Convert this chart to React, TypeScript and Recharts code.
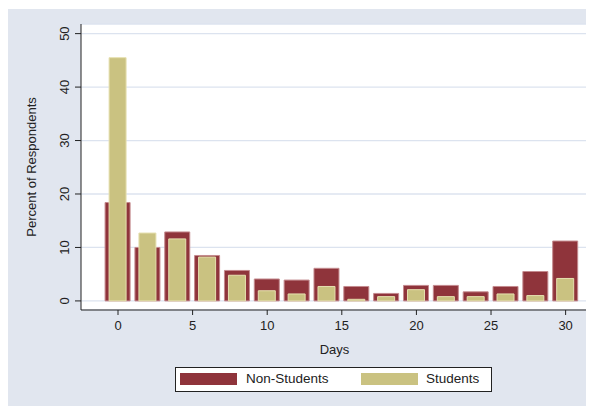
import { ComposedChart, Bar, XAxis, YAxis, CartesianGrid } from "recharts";

const days = [0, 2, 4, 6, 8, 10, 12, 14, 16, 18, 20, 22, 24, 26, 28, 30];
const nonStudents = [18.4, 10.0, 12.9, 8.5, 5.7, 4.1, 3.9, 6.1, 2.7, 1.4, 2.9, 2.9, 1.7, 2.7, 5.5, 11.2];
const students = [45.5, 12.7, 11.6, 8.2, 4.8, 1.9, 1.3, 2.7, 0.3, 0.8, 2.1, 0.8, 0.8, 1.3, 1.0, 4.2];
const xTicks = [0, 5, 10, 15, 20, 25, 30];
const yTicks = [0, 10, 20, 30, 40, 50];

const RED = "#8f343b";
const KHAKI = "#cac281";
const BG = "#e1e6ef";
const FONT = "'Liberation Sans', Arial, sans-serif";

const data = days.map((d, i) => ({ day: d, non: nonStudents[i], stu: students[i] }));

// stata draws y tick labels turned on their side
const YTick = (props: any) => {
  const { x, y, payload } = props;
  return (
    <text
      x={x}
      y={y}
      transform={`rotate(-90 ${x} ${y})`}
      textAnchor="middle"
      fontSize={13}
      fontFamily={FONT}
      fill="#222"
    >
      {payload.value}
    </text>
  );
};

const YTitle = (props: any) => {
  const vb = props.viewBox || { y: 15, height: 286 };
  const cy = vb.y + vb.height / 2;
  return (
    <text
      x={28}
      y={cy}
      transform={`rotate(-90 28 ${cy})`}
      textAnchor="middle"
      fontSize={13}
      fontFamily={FONT}
      fill="#222"
    >
      Percent of Respondents
    </text>
  );
};

export default function App() {
  return (
    <div style={{ position: "relative", top: 1, width: 586, height: 398, background: BG }}>
      <ComposedChart
        width={586}
        height={398}
        data={data}
        margin={{ top: 15, right: 6, bottom: 67, left: 0 }}
      >
        <CartesianGrid vertical={false} fill="#ffffff" stroke="#dce3ef" strokeWidth={1.3} />
        <XAxis
          xAxisId="a"
          dataKey="day"
          type="number"
          domain={[-2.48, 31.5]}
          ticks={xTicks}
          height={30}
          tickSize={5}
          tickMargin={6}
          stroke="#222"
          tick={{ fontSize: 13, fontFamily: FONT, fill: "#222" }}
          label={{
            value: "Days",
            position: "bottom",
            offset: 5,
            fontSize: 13,
            fontFamily: FONT,
            fill: "#222",
          }}
        />
        <XAxis xAxisId="b" dataKey="day" type="number" domain={[-2.48, 31.5]} hide />
        <YAxis
          type="number"
          domain={[-1.7, 51.8]}
          ticks={yTicks}
          width={73}
          tickSize={6}
          tickMargin={6}
          stroke="#222"
          tick={<YTick />}
          label={{ content: YTitle }}
        />
        <Bar
          xAxisId="a"
          dataKey="non"
          fill={RED}
          stroke="#c48a8e"
          strokeWidth={1}
          barSize={25}
          isAnimationActive={false}
        />
        <Bar
          xAxisId="b"
          dataKey="stu"
          fill={KHAKI}
          stroke="#e6e0b0"
          strokeWidth={1}
          barSize={17}
          isAnimationActive={false}
        />
      </ComposedChart>

      {/* legend, boxed like stata */}
      <div
        style={{
          position: "absolute",
          left: 167,
          top: 358,
          width: 315,
          height: 23,
          border: "1px solid #222",
          background: "#fff",
          fontFamily: FONT,
          fontSize: 13.5,
          color: "#222",
        }}
      >
        <span style={{ position: "absolute", left: 4, top: 5, width: 57, height: 12, background: RED }} />
        <span style={{ position: "absolute", left: 70, top: 3, lineHeight: "16px" }}>Non-Students</span>
        <span style={{ position: "absolute", left: 185, top: 5, width: 57, height: 12, background: KHAKI }} />
        <span style={{ position: "absolute", left: 250, top: 3, lineHeight: "16px" }}>Students</span>
      </div>
    </div>
  );
}
